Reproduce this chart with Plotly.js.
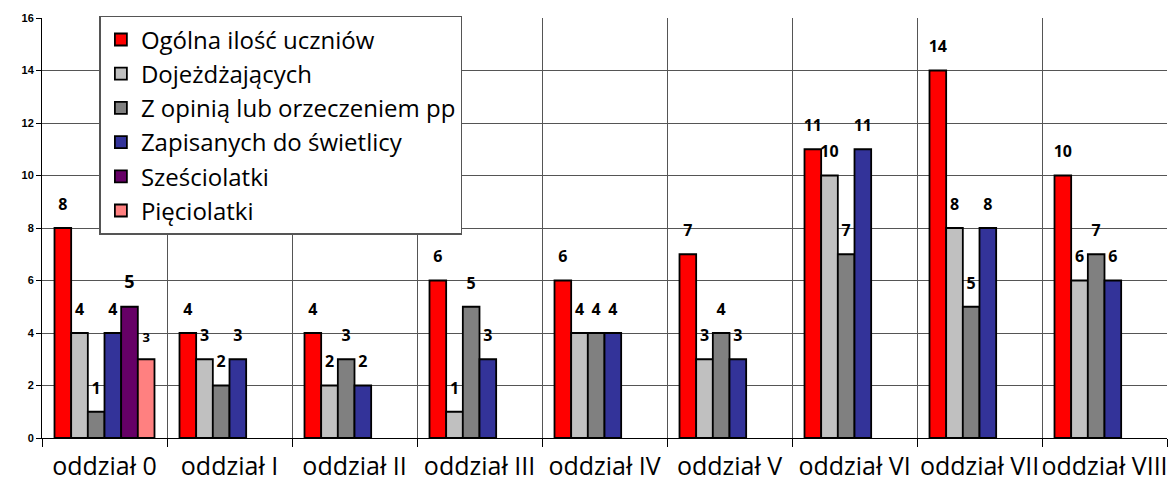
<!DOCTYPE html>
<html>
<head>
<meta charset="utf-8">
<script src="https://cdn.plot.ly/plotly-3.0.1.min.js"></script>
<style>html,body{margin:0;padding:0;background:#fff;}#chart{width:1172px;height:488px;}</style>
</head>
<body>
<div id="chart"></div>
<script>
const categories = ["oddział 0","oddział I","oddział II","oddział III","oddział IV","oddział V","oddział VI","oddział VII","oddział VIII"];
const seriesNames = ["Ogólna ilość uczniów","Dojeżdżających","Z opinią lub orzeczeniem pp","Zapisanych do świetlicy","Sześciolatki","Pięciolatki"];
const ogolna      = [8, 4, 4, 6, 6, 7, 11, 14, 10];
const dojezdzajacy = [4, 3, 2, 1, 4, 3, 10, 8, 6];
const zOpinia     = [1, 2, 3, 5, 4, 4, 7, 5, 7];
const swietlica   = [4, 3, 2, 3, 4, 3, 11, 8, 6];
const szesciolatki = [5, null, null, null, null, null, null, null, null];
const pieciolatki = [3, null, null, null, null, null, null, null, null];
const yTicks = [0, 2, 4, 6, 8, 10, 12, 14, 16];

const allSeries = [ogolna, dojezdzajacy, zOpinia, swietlica, szesciolatki, pieciolatki];
const colors = ["#FF0000", "#C0C0C0", "#808080", "#333399", "#660066", "#FF8080"];
const labelSizes = [16, 16, 16, 16, 18, 13];
const FONT = "Open Sans, DejaVu Sans, sans-serif";

const traces = [];
allSeries.forEach((vals, i) => {
  traces.push({
    type: "bar", x: categories, y: vals, name: seriesNames[i],
    offsetgroup: "g" + i,
    marker: {color: colors[i], line: {color: "#000", width: 1.8}},
    hoverinfo: "x+y+name"
  });
});
allSeries.forEach((vals, i) => {
  traces.push({
    type: "scatter", mode: "markers+text", x: categories, y: vals,
    offsetgroup: "g" + i, showlegend: false, hoverinfo: "skip",
    text: vals.map(v => v == null ? "" : String(v)),
    textposition: "top center",
    textfont: {family: FONT, size: labelSizes[i], color: "#000", weight: "bold"},
    marker: {size: 21, opacity: 0}, cliponaxis: false
  });
});

const layout = {
  width: 1172, height: 488,
  margin: {l: 42, r: 5, t: 18, b: 50},
  paper_bgcolor: "#fff", plot_bgcolor: "#fff",
  barmode: "group", bargap: 0.2, bargroupgap: 0,
  scattermode: "group", scattergap: 0.2,
  showlegend: true,
  legend: {
    x: 0.051, y: 1.005, xanchor: "left", yanchor: "top",
    bgcolor: "#fff", bordercolor: "#555", borderwidth: 1.5,
    font: {family: FONT, size: 24, color: "#000"},
    traceorder: "normal"
  },
  xaxis: {
    type: "category",
    showline: true, linecolor: "#000", linewidth: 1,
    showgrid: true, gridcolor: "#555", gridwidth: 1,
    tickson: "boundaries", ticks: "outside", ticklen: 8, tickcolor: "#000",
    tickangle: 0, ticklabelstandoff: 6,
    tickfont: {family: FONT, size: 25, color: "#000"},
    zeroline: false
  },
  yaxis: {
    range: [0, 16], tickvals: yTicks, ticktext: yTicks.map(String),
    showline: true, linecolor: "#000", linewidth: 1,
    showgrid: true, gridcolor: "#555", gridwidth: 1,
    ticks: "outside", ticklen: 5, tickcolor: "#000",
    tickfont: {family: "Liberation Sans, Arial, sans-serif", size: 11, color: "#000", weight: "bold"},
    zeroline: false, fixedrange: true
  }
};

Plotly.newPlot("chart", traces, layout, {displayModeBar: false, staticPlot: true});
</script>
</body>
</html>
